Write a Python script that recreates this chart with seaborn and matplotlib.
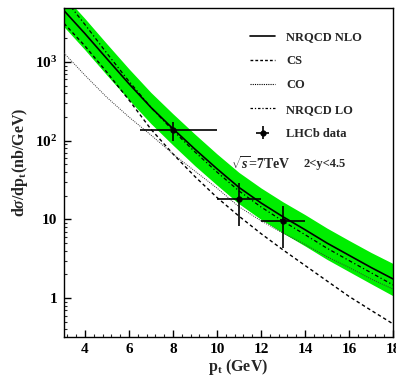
import numpy as np
import pandas as pd
import seaborn as sns
import matplotlib
matplotlib.use("Agg")
import matplotlib.pyplot as plt
from matplotlib.ticker import FixedLocator, NullFormatter
from matplotlib.lines import Line2D

# transverse momentum grid (GeV)
pt = [3.05, 4, 5, 6, 7, 8, 9, 10, 11, 12, 13, 14, 15, 16, 17, 18]

# NRQCD predictions, dsigma/dpt in nb/GeV
nlo = [4500, 2300, 1100, 530, 265, 142, 78, 44, 25.5, 16.2, 10.8, 7.4, 5.0, 3.5, 2.45, 1.75]
nlo_low = [2800, 1430, 680, 330, 165, 88, 48, 27.3, 15.8, 10.0, 6.7, 4.6, 3.1, 2.17, 1.52, 1.07]
nlo_high = [7000, 3570, 1700, 820, 410, 220, 121, 68, 39.5, 25.1, 16.7, 11.5, 7.75, 5.4, 3.8, 2.75]
cs = [3100, 1600, 740, 330, 140, 68, 35, 19, 11, 6.6, 4.1, 2.6, 1.65, 1.05, 0.70, 0.47]
co = [1300, 680, 355, 200, 118, 68, 41, 25, 14.5, 9.6, 6.7, 4.8, 3.35, 2.45, 1.75, 1.3]
lo = [6500, 3000, 1290, 570, 265, 135, 72, 40, 23, 14.4, 9.5, 6.4, 4.3, 3.0, 2.1, 1.47]

# LHCb measurement
data_pt = [8, 11, 13]
data_pt_lo = [1.5, 1.0, 1.0]
data_pt_hi = [2.0, 1.0, 1.0]
data_xs = [135, 18.4, 9.6]
data_err = [37, 10.2, 5.3]

sns.set_theme(style="ticks")
plt.rcParams["font.family"] = ["Liberation Serif", "DejaVu Serif"]
plt.rcParams["font.weight"] = "bold"
plt.rcParams["mathtext.fontset"] = "custom"
plt.rcParams["mathtext.rm"] = "Liberation Serif:bold"
plt.rcParams["mathtext.bf"] = "Liberation Serif:bold"
plt.rcParams["mathtext.it"] = "Liberation Serif:bold:italic"

W, H = 396, 377
fig = plt.figure(figsize=(W / 100, H / 100), dpi=100)
ax = fig.add_axes([64 / W, 1 - 337 / H, (393 - 64) / W, (337 - 7.5) / H])

green = "#00ee00"
ax.fill_between(pt, nlo_low, nlo_high, color=green, lw=0, zorder=1)

curves = pd.DataFrame({"pt": pt, "nlo": nlo, "cs": cs, "co": co, "lo": lo})
sns.lineplot(data=curves, x="pt", y="nlo", ax=ax, color="black", lw=1.2, zorder=3)
sns.lineplot(data=curves, x="pt", y="cs", ax=ax, color="black", lw=1.0,
             linestyle=(0, (2.5, 2)), zorder=3)
sns.lineplot(data=curves, x="pt", y="co", ax=ax, color="#333333", lw=0.7,
             linestyle=(0, (1, 1.2)), zorder=3)
sns.lineplot(data=curves, x="pt", y="lo", ax=ax, color="black", lw=0.9,
             linestyle=(0, (3, 2, 1, 2)), zorder=3)

data_handle = ax.errorbar(data_pt, data_xs, xerr=[data_pt_lo, data_pt_hi], yerr=data_err,
                          fmt="o", color="black", ms=3.5, lw=1.2, capsize=0, zorder=5)

ax.set_yscale("log")
ax.set_xlim(3.05, 18.0)
ax.set_ylim(0.32, 4930)

ax.set_xticks([4, 6, 8, 10, 12, 14, 16, 18])
ax.set_xticklabels(["4", "6", "8", "10", "12", "14", "16", "18"])
ax.xaxis.set_minor_locator(FixedLocator(np.arange(3.2, 18.01, 0.4)))
ax.set_yticks([1, 10, 100, 1000])
ax.set_yticklabels(["1", "10", r"$10^{2}$", r"$10^{3}$"])
minor_y = [m * 10.0 ** e for e in range(-1, 4) for m in range(2, 10)]
ax.yaxis.set_minor_locator(FixedLocator(minor_y))
ax.yaxis.set_minor_formatter(NullFormatter())

ax.tick_params(axis="both", which="major", direction="in", length=5, width=1,
               labelsize=11, pad=4, top=False, right=False, colors="black")
ax.tick_params(axis="y", which="major", pad=5)
ax.tick_params(axis="both", which="minor", direction="in", length=2.5, width=0.8,
               top=False, right=False)
for s in ax.spines.values():
    s.set_linewidth(1.0)
    s.set_color("black")

ax.set_xlabel(r"p$_{\mathrm{t}}$ (GeV)", fontsize=11.5, fontweight="bold")
ax.xaxis.label.set_va("center")
ax.xaxis.set_label_coords(0.53, -(367 - 337) / 329.5)
ax.set_ylabel(r"d$\sigma$/dp$_{\mathrm{t}}$(nb/GeV)", fontsize=11.5, fontweight="bold")
ax.yaxis.label.set_va("center")
ax.yaxis.set_label_coords(-(64 - 20) / 329, 0.53)

handles = [
    Line2D([], [], color="black", lw=1.2),
    Line2D([], [], color="black", lw=1.0, linestyle=(0, (2, 1.5))),
    Line2D([], [], color="black", lw=0.8, linestyle=(0, (1, 1))),
    Line2D([], [], color="black", lw=0.9, linestyle=(0, (2, 1.5, 1, 1.5))),
    data_handle,
]
labels = ["NRQCD NLO", "CS", "CO", "NRQCD LO", "LHCb data"]
leg = ax.legend(handles, labels, loc="upper left", frameon=False,
                bbox_to_anchor=(250 / W, 1 - 31 / H), bbox_transform=fig.transFigure,
                borderpad=0, borderaxespad=0, handlelength=2.0, handletextpad=0.9,
                labelspacing=0.98, prop={"family": "Liberation Serif", "weight": "bold", "size": 9})

fig.text(231 / W, 1 - 164 / H, r"$\sqrt{s}$=7TeV", fontsize=10, fontweight="bold",
         va="center", ha="left")
fig.text(304 / W, 1 - 164 / H, "2<y<4.5", fontsize=9, fontweight="bold",
         va="center", ha="left")

fig.savefig("out.png", dpi=100)
